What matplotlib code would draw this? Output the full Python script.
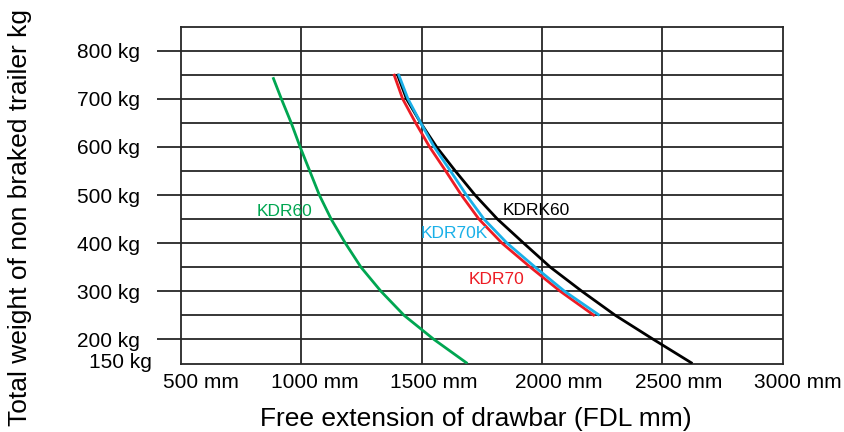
import matplotlib
matplotlib.use("Agg")
import matplotlib.pyplot as plt
import matplotlib.transforms as mtransforms

plt.rcParams['font.family'] = ['Liberation Sans', 'DejaVu Sans']

# ---- data ----
kdr60_x = [882, 917, 958, 995, 1035, 1075, 1124, 1183, 1248, 1331, 1427, 1551, 1690]
kdr60_y = [745, 700, 650, 600, 550, 500, 450, 400, 350, 300, 250, 200, 150]

kdr70_x = [1384, 1421, 1475, 1533, 1600, 1665, 1738, 1834, 1952, 2076, 2219]
kdr70_y = [752, 700, 650, 600, 550, 500, 450, 400, 350, 300, 249]

kdr70k_x = [1403, 1443, 1496, 1552, 1620, 1686, 1759, 1855, 1972, 2094, 2239]
kdr70k_y = [752, 700, 650, 600, 550, 500, 450, 400, 350, 300, 250]

kdrk60_x = [1398, 1437, 1496, 1562, 1640, 1722, 1815, 1924, 2035, 2166, 2305, 2463, 2625]
kdrk60_y = [752, 700, 650, 600, 550, 500, 450, 400, 350, 300, 250, 200, 150]

x_ticks = [500, 1000, 1500, 2000, 2500, 3000]
x_tick_labels = ["500 mm", "1000 mm", "1500 mm", "2000 mm", "2500 mm", "3000 mm"]
y_ticks = [200, 300, 400, 500, 600, 700, 800]
y_tick_labels = ["200 kg", "300 kg", "400 kg", "500 kg", "600 kg", "700 kg", "800 kg"]
y_grid = [200, 250, 300, 350, 400, 450, 500, 550, 600, 650, 700, 750, 800]

GREEN = '#00A651'
RED = '#ED1C24'
BLUE = '#1AB0E8'
BLACK = '#000000'
GRID = '#262626'

fig = plt.figure(figsize=(8.44, 4.32), dpi=100)
ax = fig.add_axes([181 / 844, 1 - 363.5 / 432, (782.7 - 181) / 844, (363.5 - 26.7) / 432])
ax.set_xlim(500, 3000)
ax.set_ylim(150, 850)

for yv in y_grid:
    ax.axhline(yv, color=GRID, lw=1.3, zorder=1)
for xv in x_ticks[1:-1]:
    ax.axvline(xv, color=GRID, lw=1.3, zorder=1)

for s in ax.spines.values():
    s.set_color(GRID)
    s.set_linewidth(1.3)

lw = 2.0
style = dict(lw=lw, solid_capstyle='butt', solid_joinstyle='round')
ax.plot(kdr60_x, kdr60_y, color=GREEN, zorder=3, **style)
ax.plot(kdrk60_x, kdrk60_y, color=BLACK, zorder=3, **style)
ax.plot(kdr70_x, kdr70_y, color=RED, zorder=4, **style)
ax.plot(kdr70k_x, kdr70k_y, color=BLUE, zorder=5, **style)

lab_fs = 12.5
ax.text(931, 465, "KDR60", color=GREEN, fontsize=lab_fs, ha='center', va='center', zorder=6)
ax.text(1636, 421, "KDR70K", color=BLUE, fontsize=lab_fs, ha='center', va='center', zorder=6)
ax.text(1975, 467, "KDRK60", color=BLACK, fontsize=lab_fs, ha='center', va='center', zorder=6)
ax.text(1812, 324, "KDR70", color=RED, fontsize=lab_fs, ha='center', va='center', zorder=6)

ax.set_xticks(x_ticks)
ax.set_xticklabels(x_tick_labels, fontsize=15)
ax.tick_params(axis='x', length=0, pad=7)
x_offsets = [20, 13, 12, 17, 16, 15]
for lab, dx in zip(ax.get_xticklabels(), x_offsets):
    lab.set_transform(lab.get_transform() + mtransforms.ScaledTranslation(dx / 100, 0, fig.dpi_scale_trans))

ax.set_yticks(y_ticks)
ax.set_yticklabels(y_tick_labels, fontsize=15)
ax.tick_params(axis='y', length=17.3, width=1.3, color=GRID, pad=12, direction='out')

ax.annotate("150 kg", xy=(0, 150), xycoords=('axes fraction', 'data'),
            xytext=(-29 * 0.72, 1), textcoords='offset points',
            ha='right', va='center', fontsize=15, annotation_clip=False)

fig.text(475.5 / 844, 1 - 419 / 432, "Free extension of drawbar (FDL mm)",
         fontsize=19, ha='center', va='center')
fig.text(20 / 844, 1 - 217.5 / 432, "Total weight of non braked trailer kg",
         fontsize=19, ha='center', va='center', rotation=90)

fig.savefig("out.png", dpi=100)
